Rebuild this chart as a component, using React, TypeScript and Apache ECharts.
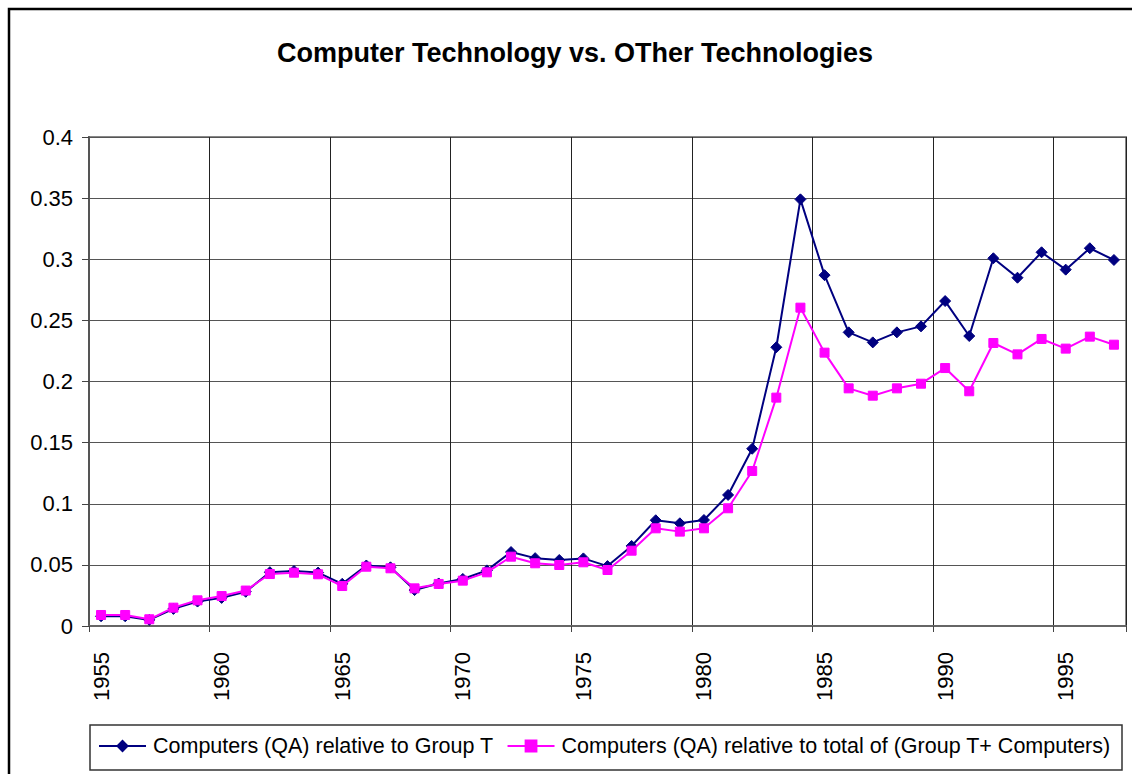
import React, { useEffect, useRef } from "react";
import * as echarts from "echarts";

const years: string[] = [
  "1955", "1956", "1957", "1958", "1959", "1960", "1961", "1962", "1963", "1964",
  "1965", "1966", "1967", "1968", "1969", "1970", "1971", "1972", "1973", "1974",
  "1975", "1976", "1977", "1978", "1979", "1980", "1981", "1982", "1983", "1984",
  "1985", "1986", "1987", "1988", "1989", "1990", "1991", "1992", "1993", "1994",
  "1995", "1996", "1997",
];

const relGroupT: number[] = [
  0.008, 0.008, 0.005, 0.014, 0.020, 0.023, 0.028, 0.044, 0.045, 0.0437,
  0.0345, 0.0495, 0.048, 0.0294, 0.0348, 0.0385, 0.0455, 0.0605, 0.0555, 0.054,
  0.0553, 0.049, 0.0655, 0.0865, 0.084, 0.0867, 0.1072, 0.145, 0.228, 0.349,
  0.287, 0.2402, 0.232, 0.2402, 0.2451, 0.2658, 0.2372, 0.3008, 0.2849, 0.3057,
  0.2915, 0.309, 0.2994,
];

const relTotal: number[] = [
  0.009, 0.009, 0.0055, 0.015, 0.021, 0.0245, 0.029, 0.0425, 0.0436, 0.0423,
  0.0327, 0.0485, 0.0472, 0.0308, 0.0344, 0.0371, 0.0439, 0.0567, 0.0513, 0.0499,
  0.0521, 0.0458, 0.0616, 0.0799, 0.0772, 0.0799, 0.0963, 0.1268, 0.1868, 0.2604,
  0.2236, 0.1944, 0.1884, 0.1944, 0.1982, 0.211, 0.192, 0.2315, 0.2222, 0.2348,
  0.2269, 0.2367, 0.2301,
];

const seriesNames: string[] = [
  "Computers (QA) relative to Group T",
  "Computers (QA) relative to total of (Group T+ Computers)",
];

const titleText = "Computer Technology vs. OTher Technologies";

const FONT = '"Liberation Sans", Arial, sans-serif';

export default function App() {
  const ref = useRef<HTMLDivElement>(null);

  useEffect(() => {
    document.body.style.margin = "0";
    const chart = echarts.init(ref.current!, null, { renderer: "svg" });
    chart.setOption({
      animation: false,
      backgroundColor: "#ffffff",
      textStyle: { fontFamily: FONT },
      title: {
        text: titleText,
        left: 575,
        top: 39,
        textAlign: "center",
        padding: 0,
        textStyle: { fontSize: 27, fontWeight: "bold", color: "#000", fontFamily: FONT },
      },
      graphic: [
        {
          type: "rect",
          shape: { x: 9, y: 9, width: 1300, height: 1000 },
          style: { fill: "none", stroke: "#000", lineWidth: 2.5 },
          silent: true,
        },
        {
          type: "rect",
          shape: { x: 90, y: 725, width: 1032, height: 45 },
          style: { fill: "none", stroke: "#333", lineWidth: 1.5 },
          silent: true,
        },
      ],
      legend: {
        left: 98,
        top: 735,
        padding: 0,
        itemWidth: 47,
        itemHeight: 16,
        itemGap: 13,
        textStyle: { fontSize: 21.5, color: "#000", fontFamily: FONT, padding: [0, 0, 0, 2] },
        data: seriesNames,
      },
      grid: {
        left: 89,
        top: 137,
        right: 6,
        bottom: 148,
        show: true,
        borderColor: "#888",
        borderWidth: 2,
        containLabel: false,
      },
      xAxis: {
        type: "category",
        data: years,
        boundaryGap: true,
        axisLine: { show: true, lineStyle: { color: "#666", width: 2 } },
        axisTick: { show: true, interval: 4, length: 6, lineStyle: { color: "#444", width: 1 } },
        axisLabel: {
          interval: 4,
          rotate: 90,
          margin: 26,
          fontSize: 22,
          color: "#000",
          fontFamily: FONT,
        },
        splitLine: { show: true, interval: 4, lineStyle: { color: "#222", width: 1 } },
      },
      yAxis: {
        type: "value",
        min: 0,
        max: 0.4,
        interval: 0.05,
        axisLine: { show: true, lineStyle: { color: "#555", width: 2 } },
        axisTick: { show: true, length: 7, lineStyle: { color: "#444", width: 1 } },
        axisLabel: { fontSize: 22, color: "#000", margin: 16, fontFamily: FONT },
        splitLine: { show: true, lineStyle: { color: "#555", width: 1 } },
      },
      series: [
        {
          name: seriesNames[0],
          type: "line",
          data: relGroupT,
          symbol: "diamond",
          symbolSize: 11,
          showAllSymbol: true,
          lineStyle: { color: "#000080", width: 2 },
          itemStyle: { color: "#000080", borderColor: "#000080" },
          z: 2,
        },
        {
          name: seriesNames[1],
          type: "line",
          data: relTotal,
          symbol: "rect",
          symbolSize: 9,
          showAllSymbol: true,
          lineStyle: { color: "#ff00ff", width: 2 },
          itemStyle: { color: "#ff00ff", borderColor: "#ff00ff" },
          z: 3,
        },
      ],
    });
    return () => chart.dispose();
  }, []);

  return <div ref={ref} style={{ width: 1132, height: 774 }} />;
}
